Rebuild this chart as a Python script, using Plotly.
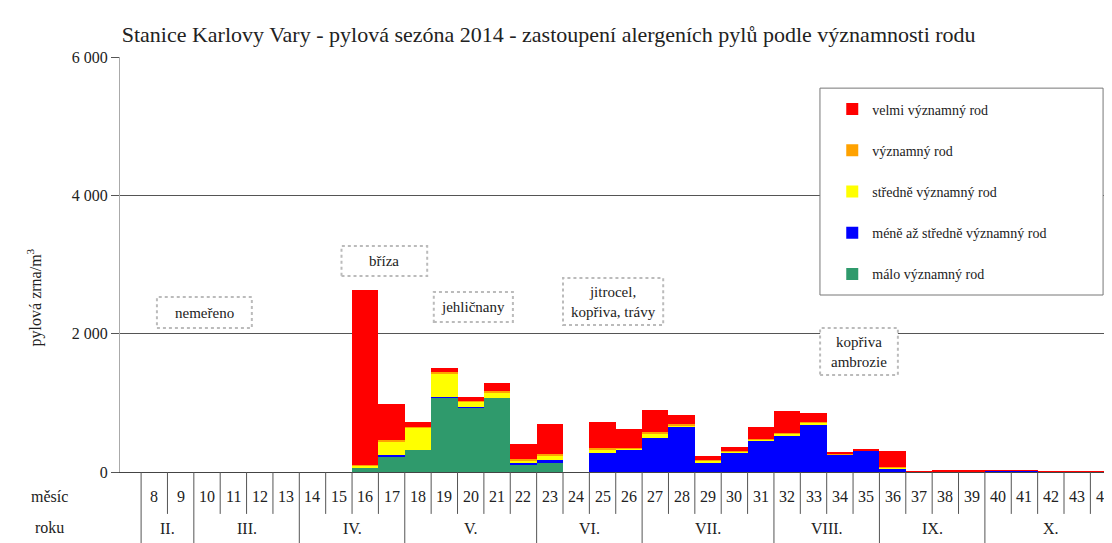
import plotly.graph_objects as go

weeks = list(range(8, 45))

# pollen grains per m3 (weeks 8..44)
malo = [0, 0, 0, 0, 0, 0, 0, 0, 60, 230, 325, 1070, 930, 1070, 110, 125, 0,
        0, 0, 0, 0, 0, 0, 0, 0, 0, 0, 0, 0, 0, 0, 0, 0, 0, 0, 0, 0]
mene = [0, 0, 0, 0, 0, 0, 0, 0, 0, 10, 0, 10, 15, 5, 20, 50, 0,
        270, 330, 490, 645, 140, 280, 455, 520, 690, 260, 315, 50, 0, 10, 12, 15, 18, 5, 5, 5]
stredne = [0, 0, 0, 0, 0, 0, 0, 0, 30, 200, 320, 350, 70, 80, 40, 60, 0,
           60, 10, 70, 30, 20, 15, 15, 30, 25, 0, 0, 10, 0, 0, 0, 0, 0, 0, 0, 0]
vyznamny = [0, 0, 0, 0, 0, 0, 0, 0, 15, 20, 10, 10, 10, 10, 20, 25, 0,
            20, 10, 20, 15, 10, 10, 10, 15, 15, 5, 0, 15, 0, 0, 0, 0, 0, 0, 0, 0]
velmi = [0, 0, 0, 0, 0, 0, 0, 0, 2530, 530, 65, 60, 60, 125, 210, 440, 0,
         380, 265, 310, 135, 65, 55, 165, 315, 130, 25, 10, 225, 5, 5, 8, 8, 10, 8, 8, 8]

series_names = ["málo významný rod", "méně až středně významný rod", "středně významný rod",
                "významný rod", "velmi významný rod"]
series_vals = [malo, mene, stredne, vyznamny, velmi]
colors = ["#2f9a6c", "#0000ff", "#ffff00", "#ffa200", "#ff0000"]

months = ["II.", "III.", "IV.", "V.", "VI.", "VII.", "VIII.", "IX.", "X."]
month_weeks = [(8, 9), (10, 13), (14, 17), (18, 22), (23, 26), (27, 31), (32, 35), (36, 39), (40, 44)]

# labelled boxes: text, x0, x1, y0, y1
notes = [
    ("nemeřeno", 8.1, 11.7, 2082, 2530),
    ("bříza", 15.1, 18.35, 2834, 3267),
    ("jehličnany", 18.6, 21.6, 2169, 2602),
    ("jitrocel,<br>kopřiva, trávy", 23.5, 27.3, 2125, 2805),
    ("kopřiva<br>ambrozie", 33.25, 36.2, 1402, 2082),
]

SERIF = "Liberation Serif"
fig = go.Figure()
n = len(series_names)
for i, (name, vals, col) in enumerate(zip(series_names, series_vals, colors)):
    fig.add_trace(go.Bar(x=weeks, y=vals, name=name, marker_color=col,
                         marker_line_width=0, legendgroup=name, legendrank=n - i))

# table below the plot
shapes = []
ann = []
ROW1 = -0.101
for w in weeks:
    ann.append(dict(x=w, y=-0.06, xref="x", yref="paper", text=str(w), showarrow=False,
                    yanchor="middle", xanchor="center", font=dict(size=16, color="#222")))
month_edges = [a - 0.5 for a, b in month_weeks] + [month_weeks[-1][1] + 0.5]
for w in weeks + [weeks[-1] + 1]:
    edge = w - 0.5
    bottom = -0.2 if edge in month_edges else ROW1
    shapes.append(dict(type="line", xref="x", yref="paper", x0=edge, x1=edge, y0=0, y1=bottom,
                       line=dict(color="#555", width=1)))
for m, (a, b) in zip(months, month_weeks):
    ann.append(dict(x=(a + b) / 2, y=-0.135, xref="x", yref="paper", text=m, showarrow=False,
                    yanchor="middle", xanchor="center", font=dict(size=16, color="#222")))
for txt, yy in [("měsíc", -0.06), ("roku", -0.133)]:
    ann.append(dict(x=-0.071, y=yy, xref="paper", yref="paper", text=txt, showarrow=False,
                    xanchor="center", yanchor="middle", font=dict(size=16, color="#222")))

for txt, x0, x1, y0, y1 in notes:
    shapes.append(dict(type="rect", xref="x", yref="y", x0=x0, x1=x1, y0=y0, y1=y1,
                       fillcolor="white", layer="above",
                       line=dict(color="#bbb", width=2, dash="dot")))
    ann.append(dict(x=(x0 + x1) / 2, y=(y0 + y1) / 2, xref="x", yref="y", text=txt,
                    showarrow=False, font=dict(size=15, color="#222")))

# legend frame
shapes.append(dict(type="rect", xref="paper", yref="paper", x0=0.7056, x1=0.991, y0=0.4265, y1=0.925,
                   fillcolor="white", layer="above", line=dict(color="#777", width=1)))

ann.append(dict(x=-0.086, y=0.42, xref="paper", yref="paper", text="pylová zrna/m<sup>3</sup>",
                textangle=-90, showarrow=False, xanchor="center", yanchor="middle",
                font=dict(size=16, color="#222")))

# page body adds an 8 px margin, so the figure is 8 px smaller each way
fig.update_layout(
    template="none",
    width=1104, height=535,
    margin=dict(l=112, r=0, t=49, b=71),
    paper_bgcolor="white", plot_bgcolor="white",
    font=dict(family=SERIF, color="#222"),
    barmode="stack", bargap=0,
    title=dict(text="Stanice Karlovy Vary - pylová sezóna 2014 - zastoupení alergeních pylů podle významnosti rodu",
               x=0.103, xanchor="left", y=0.951, yanchor="middle", font=dict(size=22, color="#222")),
    xaxis=dict(range=[6.7, 44.32], showgrid=False, zeroline=False, showticklabels=False,
               showline=True, linecolor="#444", linewidth=1, ticks=""),
    yaxis=dict(range=[0, 6000], tickvals=[0, 2000, 4000, 6000], ticktext=["0", "2 000", "4 000", "6 000"],
               showgrid=True, gridcolor="#555", gridwidth=1, zeroline=False,
               showline=True, linecolor="#aaa", ticks="outside", ticklen=8, tickcolor="#555",
               tickfont=dict(size=16, color="#222")),
    legend=dict(x=0.718, y=0.912, xanchor="left", yanchor="top", traceorder="grouped",
                tracegroupgap=20, bgcolor="rgba(0,0,0,0)", borderwidth=0,
                font=dict(size=14, color="#222")),
    shapes=shapes, annotations=ann,
)

fig.write_html("out.html")
